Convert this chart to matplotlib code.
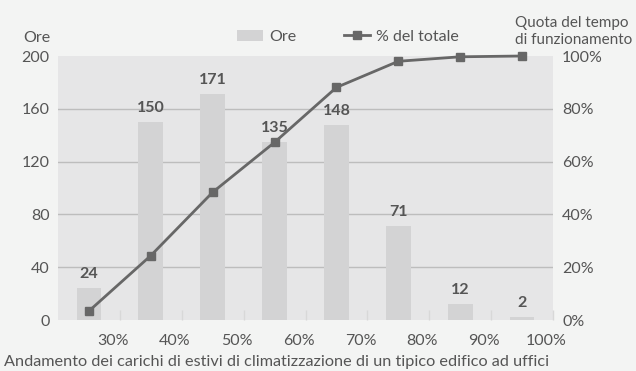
import matplotlib.pyplot as plt
import matplotlib.transforms as mtransforms
from matplotlib.lines import Line2D
from matplotlib.patches import Patch

plt.rcParams["font.family"] = ["Lato", "DejaVu Sans"]

# data
bin_centers = [25, 35, 45, 55, 65, 75, 85, 95]
ore = [24, 150, 171, 135, 148, 71, 12, 2]
quota = [3.4, 24.4, 48.4, 67.3, 88.1, 98.0, 99.7, 100.0]
x_ticks = [30, 40, 50, 60, 70, 80, 90, 100]
x_labels = ["30%", "40%", "50%", "60%", "70%", "80%", "90%", "100%"]
y_ticks = [0, 40, 80, 120, 160, 200]
y2_ticks = [0, 20, 40, 60, 80, 100]
y2_labels = ["0%", "20%", "40%", "60%", "80%", "100%"]

fig_bg = "#f3f4f3"
ax_bg = "#e6e6e7"
bar_col = "#d3d3d4"
line_col = "#676767"
text_col = "#555555"

fig = plt.figure(figsize=(6.36, 3.71), dpi=100, facecolor=fig_bg)
ax1 = fig.add_axes([58 / 636, 1 - 320 / 371, 495 / 636, 264 / 371])
ax1.set_facecolor(ax_bg)

ax1.bar(bin_centers, ore, width=4.0, color=bar_col, zorder=2)
for xc, v in zip(bin_centers, ore):
    ax1.annotate(str(v), (xc, v), xytext=(0, 5), textcoords="offset points",
                 ha="center", va="bottom", fontsize=11.5, fontweight="bold",
                 color="#555555")

ax1.set_xlim(20, 100)
ax1.set_ylim(0, 200)
ax1.set_yticks(y_ticks)
ax1.set_yticklabels([str(t) for t in y_ticks])
for t in y_ticks[1:-1]:
    ax1.axhline(t, color="#bdbdbd", lw=1.0, zorder=1)

ax1.set_xticks(x_ticks)
ax1.set_xticklabels(x_labels)
ax1.tick_params(axis="x", direction="in", length=7, width=1, color="#d8d8d8",
                labelsize=11.5, labelcolor=text_col, pad=10)
ax1.tick_params(axis="y", length=0, labelsize=11.5, labelcolor=text_col, pad=6)
offset = mtransforms.ScaledTranslation(-7 / 100, 0, fig.dpi_scale_trans)
for lab in ax1.get_xticklabels():
    lab.set_transform(lab.get_transform() + offset)
for s in ax1.spines.values():
    s.set_visible(False)

ax2 = ax1.twinx()
ax2.plot(bin_centers, quota, color=line_col, lw=2.0, marker="s", markersize=6,
         zorder=5, clip_on=False)
ax2.set_ylim(0, 100)
ax2.set_yticks(y2_ticks)
ax2.set_yticklabels(y2_labels)
ax2.tick_params(axis="y", length=0, labelsize=11.5, labelcolor=text_col, pad=6.5)
for s in ax2.spines.values():
    s.set_visible(False)

fig.text(23 / 636, 1 - 38 / 371, "Ore", fontsize=11.5, color=text_col,
         ha="left", va="center")
fig.text(515 / 636, 1 - 23 / 371, "Quota del tempo", fontsize=11,
         color=text_col, ha="left", va="center")
fig.text(515 / 636, 1 - 40 / 371, "di funzionamento", fontsize=11,
         color=text_col, ha="left", va="center")
fig.text(4 / 636, 1 - 362 / 371,
         "Andamento dei carichi di estivi di climatizzazione di un tipico edifico ad uffici",
         fontsize=11.7, color=text_col, ha="left", va="center")

handles = [Patch(facecolor=bar_col, edgecolor="none"),
           Line2D([0], [0], color=line_col, lw=2.0, marker="s", markersize=6)]
fig.legend(handles, ["Ore", "% del totale"], loc="center",
           bbox_to_anchor=(348 / 636, 1 - 37 / 371), ncol=2, frameon=False,
           fontsize=11.5, labelcolor=text_col, handlelength=1.6,
           handletextpad=0.4, columnspacing=3.0)

fig.savefig("out.png", dpi=100, facecolor=fig_bg)
